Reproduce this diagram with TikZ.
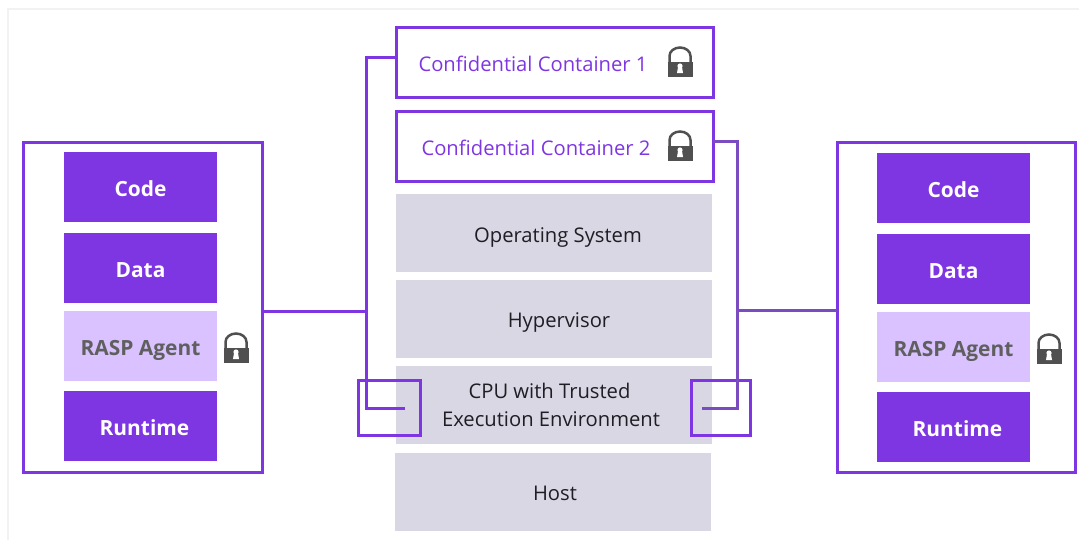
\documentclass[tikz,border=0pt]{standalone}
\usepackage{fontspec}
\setmainfont{Open Sans}
\usepackage{tikz}
\usetikzlibrary{positioning}
\usepackage{xcolor}
\definecolor{violet}{HTML}{7E36E2}
\definecolor{lilac}{HTML}{D9C2FF}
\definecolor{stone}{HTML}{D9D7E3}
\definecolor{ink}{HTML}{1E1E24}
\definecolor{slate}{HTML}{5F5F5F}
\definecolor{lockgrey}{HTML}{505050}
\definecolor{sidewire}{HTML}{7A4CC0}
\definecolor{pageline}{HTML}{F2F2F2}
\tikzset{
  frame/.style={draw=violet, line width=.6mm, inner sep=0pt, outer sep=0pt},
  tile/.style={inner sep=0pt, outer sep=0pt, minimum width=30.6mm, minimum height=14mm, text height=3.6mm, text depth=0pt, font=\fontsize{11.9}{13}\selectfont\bfseries},
  code/.style={tile, fill=violet, text=white},
  agent/.style={tile, fill=lilac, text=slate},
  layer/.style={inner sep=0pt, outer sep=0pt, fill=stone, text=ink, minimum width=63.2mm, minimum height=15.6mm, align=center, font=\fontsize{11.5}{15.5}\selectfont},
  oneline/.style={text height=3.6mm, text depth=0pt},
  container/.style={frame, oneline, minimum width=63.4mm, minimum height=14mm, text=violet, font=\fontsize{11.5}{13}\selectfont},
  wire/.style={draw=violet, line width=.6mm},
  darkwire/.style={draw=sidewire, line width=.6mm},
  padlock/.pic={
    \fill[lockgrey] (-12.5,0) rectangle (12.5,15);
    \draw[lockgrey, line width=.5mm] (-10.5,0) -- (-10.5,-6) arc (180:0:10.5 and -8.5) -- (10.5,0);
    \fill[white] (0,4) circle (2.6) (-2,5) -- (2,5) -- (3,11) -- (-3,11) -- cycle;
  }
}

\begin{document}
\begin{tikzpicture}[x=.2mm, y=-.2mm]
       \useasboundingbox (0,0) rectangle (1079,540);
       \draw[pageline, line width=.3mm] (1079,9) -- (8,9) -- (8,540);

       \node[frame, minimum width=47.6mm, minimum height=66mm] (leftpod) at (143,307) {};
       \node[frame, minimum width=47.6mm, minimum height=66mm] (rightpod) at (956,307) {};

       \node[code] (leftcode) at (140.5,187) {Code};
       \node[code] (leftdata) at (140.5,268) {Data};
       \node[agent] (leftagent) at (140.5,346) {RASP Agent};
       \node[code] (leftruntime) at (140.5,426) {\hspace*{.16cm}Runtime};

       \node[code] (rightcode) at (953.5,188) {Code};
       \node[code] (rightdata) at (953.5,269) {Data};
       \node[agent] (rightagent) at (953.5,347) {RASP Agent};
       \node[code] (rightruntime) at (953.5,427) {\hspace*{.16cm}Runtime};

       \node[container] (first) at (554.5,62) {Confidential Container 1\hspace*{.86cm}};
       \node[container, text height=3.4mm] (second) at (554.5,146.5) {Confidential Container 2\hspace*{.74cm}};

       \node[layer, oneline] (system) at (554,233) {\hspace*{.16cm}Operating System};
       \node[layer, oneline, text height=3.4mm] (hypervisor) at (554,319) {\hspace*{.2cm}Hypervisor};
       \node[layer] (cpu) at (554,405) {CPU with Trusted\hspace*{.18cm}\\Execution Environment\hspace*{.12cm}};
       \node[layer, oneline, text height=3.2mm] (host) at (553,492) {\hspace*{.08cm}Host};

       \node[frame, minimum width=12.4mm, minimum height=11mm] (leftgate) at (389,407.5) {};
       \node[frame, minimum width=11.8mm, minimum height=11mm] (rightgate) at (720.5,407.5) {};

       \coordinate (leftturn) at (366,57);
       \coordinate (rightturn) at (737,141);
       \coordinate (leftend) at (405,408);
       \coordinate (rightend) at (702,408);

       \draw[wire] (first.west |- leftturn) -- (leftturn) -- (leftturn |- leftend) -- (leftend);
       \draw[darkwire] (second.east |- rightturn) -- (rightturn) -- (rightturn |- rightend) -- (rightend);
       \draw[wire] (leftpod.east |- 0,311) -- (366,311);
       \draw[darkwire] (rightpod.west |- 0,310) -- (737,310);

       \pic at (680,62) {padlock};
       \pic at (680,146) {padlock};
       \pic at (236,348) {padlock};
       \pic at (1049,349) {padlock};
    \end{tikzpicture}
\end{document}
